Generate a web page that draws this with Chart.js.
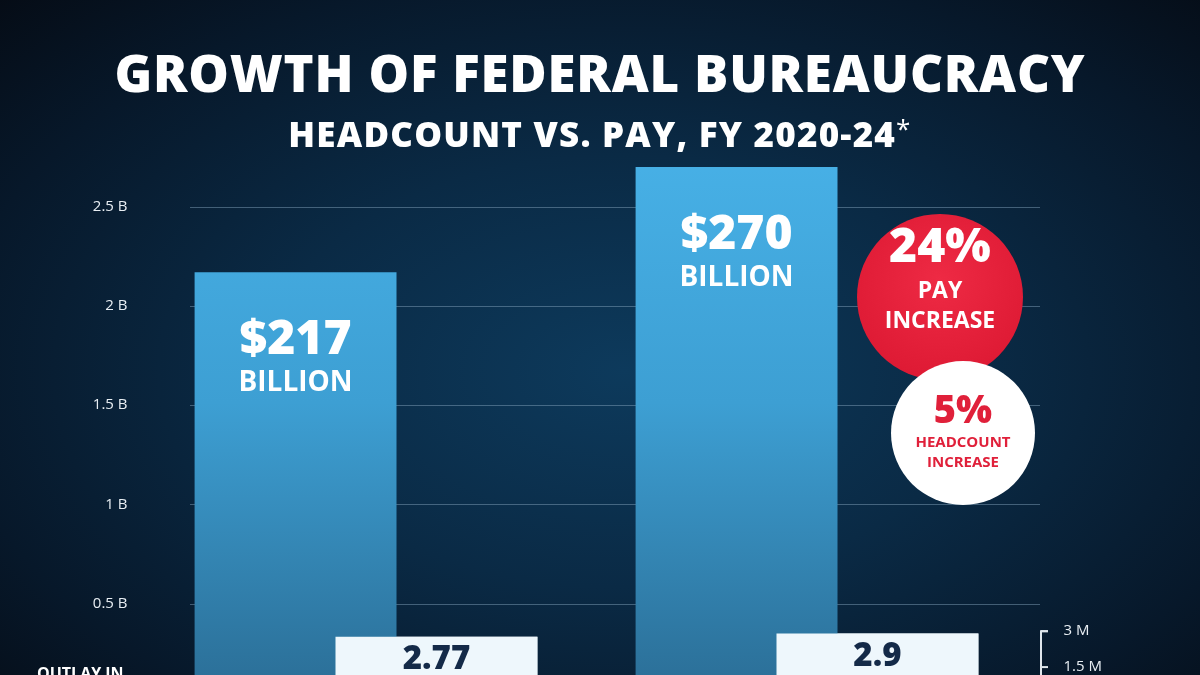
<!DOCTYPE html>
<html><head><meta charset="utf-8">
<script src="https://cdn.jsdelivr.net/npm/chart.js@4"></script>
<style>
html,body{margin:0;padding:0;width:1200px;height:675px;overflow:hidden;}
body{background:radial-gradient(ellipse 75% 80% at 52% 55%, #0d3a5c 0%, #0a2a45 40%, #07182a 75%, #050b14 100%);font-family:"Open Sans",sans-serif;position:relative;}
#wrap{position:absolute;left:0;top:0;width:1200px;height:740px;}
#ch{width:1200px;height:740px;display:block;}
.t{position:absolute;left:0;width:1200px;text-align:center;color:#fff;font-weight:800;}
.c{position:absolute;border-radius:50%;text-align:center;font-weight:800;}
</style></head><body>
<div id="wrap"><canvas id="ch" width="1200" height="740"></canvas></div>
<div class="t" style="top:37px;font-size:51px;letter-spacing:0.8px;">GROWTH OF FEDERAL BUREAUCRACY</div>
<div class="t" style="top:110px;font-size:35px;letter-spacing:1.2px;">HEADCOUNT VS. PAY, FY 2020-24<span style="font-weight:400;font-size:26px;vertical-align:top;">*</span></div>
<div class="c" style="left:857px;top:214px;width:166px;height:166px;background:radial-gradient(circle at 50% 40%,#ee2a44,#d9152f);color:#fff;">
 <div style="font-size:48px;margin-top:0px;line-height:60px;">24%</div>
 <div style="font-size:23px;line-height:30px;font-weight:700;">PAY<br>INCREASE</div>
</div>
<div class="c" style="left:891px;top:361px;width:144px;height:144px;background:#fff;color:#e0203a;">
 <div style="font-size:38px;margin-top:24px;line-height:46px;">5%</div>
 <div style="font-size:15px;line-height:20px;font-weight:700;">HEADCOUNT<br>INCREASE</div>
</div>
<div style="position:absolute;left:37px;top:662px;color:#fff;font-weight:700;font-size:16px;">OUTLAY IN</div>
<script>
const categories=['FY 2020','FY 2024'];
const payValues=[2.17,2.70];
const payLabels=['$217','$270'];
const headcountValues=[2.77,2.9];
const headcountLabels=['2.77','2.9'];
const leftTicks=[0.5,1,1.5,2,2.5];
const rightTicks=[1.5,3];

const ctx=document.getElementById('ch').getContext('2d');
const plug={id:'p',
 beforeDatasetsDraw(c){const y=c.scales.y,g=c.ctx;g.save();g.strokeStyle='rgba(140,170,195,0.45)';g.lineWidth=1;
  leftTicks.forEach(v=>{const py=Math.round(y.getPixelForValue(v))+0.5;g.beginPath();g.moveTo(190,py);g.lineTo(1040,py);g.stroke();});
  const y2=c.scales.y2;g.strokeStyle='#dfe6ec';g.lineWidth=2;const a=y2.getPixelForValue(3),b=y2.getPixelForValue(0);
  g.beginPath();g.moveTo(1048,a);g.lineTo(1041,a);g.lineTo(1041,b);g.stroke();
  rightTicks.forEach(v=>{const py=y2.getPixelForValue(v);g.beginPath();g.moveTo(1041,py);g.lineTo(1048,py);g.stroke();});
  g.restore();},
 afterDatasetsDraw(c){const g=c.ctx;g.save();
  c.getDatasetMeta(1).data.forEach(e=>e.draw(g));
  g.textAlign='center';g.textBaseline='middle';
  c.getDatasetMeta(0).data.forEach((e,i)=>{g.fillStyle='#fff';g.font='800 48px "Open Sans"';g.fillText(payLabels[i],e.x,e.y+68);
    g.font='700 28px "Open Sans"';g.fillText('BILLION',e.x,e.y+111);});
  c.getDatasetMeta(1).data.forEach((e,i)=>{g.fillStyle='#142a48';g.font='800 33px "Open Sans"';g.fillText(headcountLabels[i],e.x,e.y+23);
    g.font='800 20px "Open Sans"';g.fillText('MILLION',e.x,e.y+52);});
  g.restore();}
};
new Chart(ctx,{type:'bar',
 data:{labels:categories,datasets:[
  {label:'Pay',data:payValues,yAxisID:'y',
   backgroundColor:(cx)=>{const ca=cx.chart.chartArea;if(!ca)return '#45aee3';const gr=cx.chart.ctx.createLinearGradient(0,ca.top,0,ca.bottom);gr.addColorStop(0,'#47b0e6');gr.addColorStop(0.45,'#3d9fd3');gr.addColorStop(1,'#2a6c94');return gr;}},
  {label:'Headcount',data:headcountValues,yAxisID:'y2',backgroundColor:'#eef7fc'}]},
 options:{responsive:false,animation:false,
  layout:{padding:{top:157,bottom:0,left:0,right:0}},
  datasets:{bar:{categoryPercentage:0.639,barPercentage:1.433}},
  plugins:{legend:{display:false},tooltip:{enabled:false}},
  scales:{
   x:{display:false},
   y:{min:0,max:2.75,afterFit(s){s.width=145.5;},grid:{display:false},border:{display:false},
     afterBuildTicks(s){s.ticks=leftTicks.map(v=>({value:v}));},
     ticks:{color:'#e8eef3',font:{size:15,family:'"Open Sans"'},padding:10,callback:v=>v+' B'}},
   y2:{position:'right',min:0,max:22.8,afterFit(s){s.width=172.5;},grid:{display:false},border:{display:false},
     afterBuildTicks(s){s.ticks=rightTicks.map(v=>({value:v}));},
     ticks:{color:'#e8eef3',font:{size:15,family:'"Open Sans"'},padding:28,callback:v=>v+' M'}}
  }},
 plugins:[plug]});
</script></body></html>
